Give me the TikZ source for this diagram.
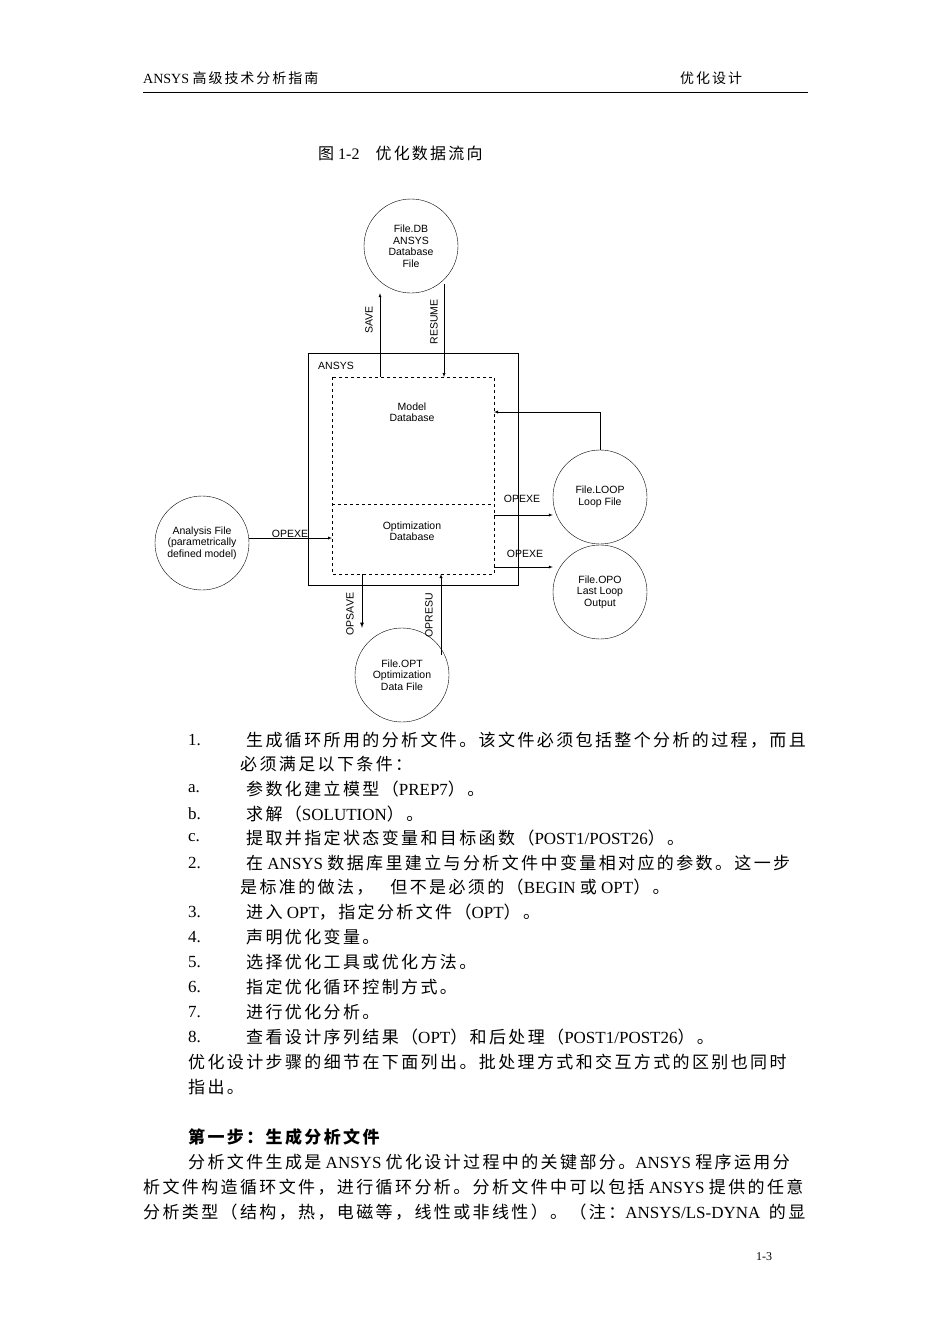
\documentclass[tikz,border=0pt]{standalone}
\usepackage{fontspec}
\setmainfont{Liberation Serif}
\setsansfont{Liberation Sans}
\newfontfamily\cjk[LetterSpace=14]{Noto Sans CJK SC}
\newcommand{\zh}[1]{{\cjk #1}}
\begin{document}
\begin{tikzpicture}[x=1pt,y=-1pt,
  txt/.style={anchor=west,inner sep=0pt,font=\fontsize{17}{18}\selectfont},
  dg/.style={font=\sffamily\fontsize{10.5}{11.5}\selectfont,align=center,inner sep=0pt},
  filec/.style={draw,circle,minimum size=94pt,inner sep=0pt,dg},
  arr/.style={-latex,thin},
  vlab/.style={dg,rotate=90}]
\useasboundingbox[fill=white] (0,0) rectangle (950,1344);
% header
\node[txt,font=\fontsize{14}{16}\selectfont] (h1) at (143,78) {ANSYS \zh{高级技术分析指南}};
\node[txt,font=\fontsize{14}{16}\selectfont] (h2) at (680,78) {\zh{优化设计}};
\draw[thin] (143,92) -- (808,92);
\node[txt,font=\fontsize{16}{16}\selectfont] (cap) at (318,153) {\zh{图} 1-2\quad\zh{优化数据流向}};
% diagram
\draw[thick] (308,353) rectangle (518,585);
\node[dg,anchor=west] (ansys) at (318,366) {ANSYS};
\draw[dashed] (332,377) rectangle (494,574);
\draw[dashed] (332,504) -- (494,504);
\node[dg] (mdb) at (412,412) {Model\\Database};
\node[dg] (odb) at (412,531) {Optimization\\Database};
\node[filec] (fdb) at (411,246) {File.DB\\ANSYS\\Database\\File};
\node[filec] (floop) at (600,497) {File.LOOP\\Loop File};
\node[filec] (fopo) at (600,592) {File.OPO\\Last Loop\\Output};
\node[filec] (fopt) at (402,675) {File.OPT\\Optimization\\Data File};
\node[filec] (fana) at (202,543) {Analysis File\\(parametrically\\defined model)};
\coordinate (s1) at (380,377);
\draw[arr] (s1) -- (s1 |- fdb.south);
\node[vlab] (sl) at (369,320) {SAVE};
\coordinate (r2) at (444,377);
\draw[arr] (444,284) -- (r2);
\node[vlab] (rl) at (434,322) {RESUME};
\coordinate (lp) at (494,412);
\draw[arr] (floop.north) |- (lp);
\coordinate (o1) at (494,515);
\draw[arr] (o1) -- (o1 -| floop.west);
\node[dg] (l1) at (522,499) {OPEXE};
\coordinate (o2) at (494,567);
\draw[arr] (o2) -- (o2 -| fopo.west);
\node[dg] (l2) at (525,554) {OPEXE};
\coordinate (a1) at (332,538);
\draw[arr] (fana.east |- a1) -- (a1);
\node[dg] (l3) at (290,534) {OPEXE};
\coordinate (op1) at (362,574);
\draw[arr,thick] (op1) -- (op1 |- fopt.north);
\node[vlab] (l4) at (350,614) {OPSAVE};
\coordinate (or1) at (441,574);
\draw[arr] (441,655) -- (or1);
\node[vlab] (l5) at (429,615) {OPRESU};
% text
\node[txt] (n1) at (188,740) {1.};
\node[txt] (t1) at (246,740) {\zh{生成循环所用的分析文件。该文件必须包括整个分析的过程，而且}};
\node[txt] (t1b) at (240,764) {\zh{必须满足以下条件：}};
\node[txt] (na) at (188,789) {a.};
\node[txt] (ta) at (246,789) {\zh{参数化建立模型（}PREP7\zh{）。}};
\node[txt] (nb) at (188,814) {b.};
\node[txt] (tb) at (246,814) {\zh{求解（}SOLUTION\zh{）。}};
\node[txt] (nc) at (188,838) {c.};
\node[txt] (tc) at (246,838) {\zh{提取并指定状态变量和目标函数（}POST1/POST26\zh{）。}};
\node[txt] (n2) at (188,863) {2.};
\node[txt] (t2) at (246,863) {\zh{在} ANSYS \zh{数据库里建立与分析文件中变量相对应的参数。这一步}};
\node[txt] (t2b) at (240,887) {\zh{是标准的做法，\quad 但不是必须的（}BEGIN \zh{或} OPT\zh{）。}};
\node[txt] (n3) at (188,912) {3.};
\node[txt] (t3) at (246,912) {\zh{进入} OPT\zh{，指定分析文件（}OPT\zh{）。}};
\node[txt] (n4) at (188,937) {4.};
\node[txt] (t4) at (246,937) {\zh{声明优化变量。}};
\node[txt] (n5) at (188,962) {5.};
\node[txt] (t5) at (246,962) {\zh{选择优化工具或优化方法。}};
\node[txt] (n6) at (188,987) {6.};
\node[txt] (t6) at (246,987) {\zh{指定优化循环控制方式。}};
\node[txt] (n7) at (188,1012) {7.};
\node[txt] (t7) at (246,1012) {\zh{进行优化分析。}};
\node[txt] (n8) at (188,1037) {8.};
\node[txt] (t8) at (246,1037) {\zh{查看设计序列结果（}OPT\zh{）和后处理（}POST1/POST26\zh{）。}};
\node[txt] (p1) at (188,1062) {\zh{优化设计步骤的细节在下面列出。批处理方式和交互方式的区别也同时}};
\node[txt] (p2) at (188,1087) {\zh{指出。}};
\node[txt] (hd) at (188,1137) {{\cjk\bfseries 第一步：生成分析文件}};
\node[txt] (q1) at (188,1162) {\zh{分析文件生成是} ANSYS \zh{优化设计过程中的关键部分。}ANSYS \zh{程序运用分}};
\node[txt] (q2) at (143,1187) {\zh{析文件构造循环文件，进行循环分析。分析文件中可以包括} ANSYS \zh{提供的任意}};
\node[txt] (q3) at (143,1212) {\zh{分析类型（结构，热，电磁等，线性或非线性）。（注：}ANSYS/LS-DYNA\ \ \zh{的显}};
\node[txt,font=\fontsize{12}{14}\selectfont] (pg) at (756,1257) {1-3};
\end{tikzpicture}
\end{document}
